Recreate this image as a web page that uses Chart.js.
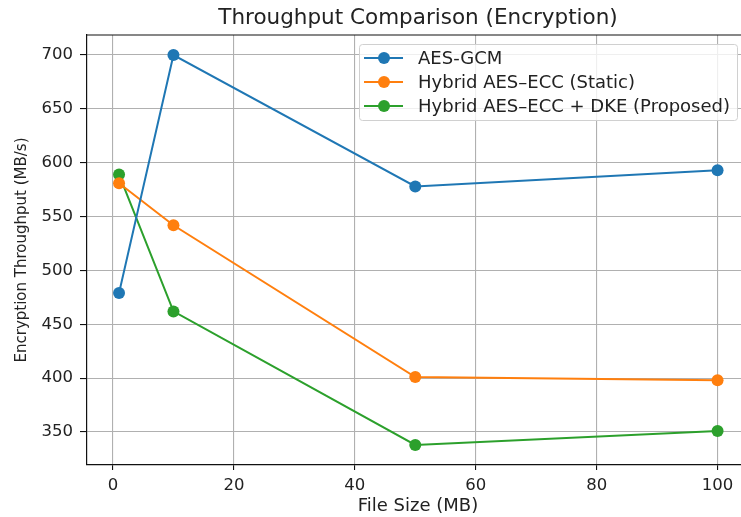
<!DOCTYPE html>
<html>
<head>
<meta charset="utf-8">
<script src="https://cdn.jsdelivr.net/npm/chart.js@4.4.1/dist/chart.umd.min.js"></script>
<style>
  html, body { margin: 0; padding: 0; background: #fff; overflow: hidden; }
  #wrap { width: 741px; height: 517px; overflow: hidden; }
</style>
</head>
<body>
<div id="wrap"><canvas id="chart" width="760" height="517"></canvas></div>
<script>
// du lieu doc tu hinh
const fileSizes = [1, 10, 50, 100];
const aesGcm = [479, 700, 578, 593];
const hybridStatic = [581, 542, 401, 398];
const hybridDke = [589, 462, 338, 351];
const xTicks = [0, 20, 40, 60, 80, 100];
const yTicks = [350, 400, 450, 500, 550, 600, 650, 700];
const chartTitle = 'Throughput Comparison (Encryption)';

const FONT = 'DejaVu Sans, sans-serif';

function toPoints(vals) {
    return fileSizes.map((x, i) => ({ x: x, y: vals[i] }));
}

function makeSeries(label, vals, color) {
    return {
        label: label,
        data: toPoints(vals),
        borderColor: color,
        backgroundColor: color,
        borderWidth: 2,
        pointRadius: 6,
        pointHoverRadius: 6,
        pointBorderWidth: 0,
        tension: 0
    };
}

// tieu de + vien tren, can giua vung ve
const frameAndTitle = {
    id: 'frameAndTitle',
    afterDraw(chart) {
        const ctx = chart.ctx;
        const a = chart.chartArea;
        ctx.save();
        ctx.strokeStyle = '#111';
        ctx.lineWidth = 1.2;
        ctx.beginPath();
        ctx.moveTo(a.left, a.top);
        ctx.lineTo(a.right, a.top);
        ctx.stroke();
        ctx.fillStyle = '#222';
        ctx.font = '21.5px ' + FONT;
        ctx.textAlign = 'center';
        ctx.textBaseline = 'middle';
        ctx.fillText(chartTitle, (a.left + a.right) / 2, 18);
        ctx.restore();
    }
};

// legend ve trong vung bieu do (goc tren ben phai)
const insideLegend = {
    id: 'insideLegend',
    afterDatasetsDraw(chart) {
        const ctx = chart.ctx;
        const area = chart.chartArea;
        const sets = chart.data.datasets;
        ctx.save();
        ctx.font = '18px ' + FONT;
        let maxW = 0;
        sets.forEach(d => { maxW = Math.max(maxW, ctx.measureText(d.label).width); });
        const w = maxW + 66, h = 76;
        const x0 = area.right - 12 - w, y0 = area.top + 9;
        ctx.fillStyle = 'rgba(255,255,255,0.8)';
        ctx.strokeStyle = '#d0d0d0';
        ctx.lineWidth = 1;
        ctx.beginPath();
        ctx.roundRect(x0 + 0.5, y0 + 0.5, w, h, 3);
        ctx.fill();
        ctx.stroke();
        sets.forEach((d, i) => {
            const cy = y0 + 14 + i * 24;
            ctx.strokeStyle = d.borderColor;
            ctx.lineWidth = 2;
            ctx.beginPath();
            ctx.moveTo(x0 + 5, cy);
            ctx.lineTo(x0 + 44, cy);
            ctx.stroke();
            ctx.fillStyle = d.borderColor;
            ctx.beginPath();
            ctx.arc(x0 + 25, cy, 6, 0, Math.PI * 2);
            ctx.fill();
            ctx.fillStyle = '#222';
            ctx.textBaseline = 'middle';
            ctx.fillText(d.label, x0 + 59, cy + 1);
        });
        ctx.restore();
    }
};

new Chart(document.getElementById('chart'), {
    type: 'line',
    data: {
        datasets: [
            makeSeries('AES-GCM', aesGcm, '#1f77b4'),
            makeSeries('Hybrid AES\u2013ECC (Static)', hybridStatic, '#ff7f0e'),
            makeSeries('Hybrid AES\u2013ECC + DKE (Proposed)', hybridDke, '#2ca02c')
        ]
    },
    options: {
        responsive: false,
        animation: false,
        layout: { padding: { left: 0, right: 11, top: 35, bottom: 0 } },
        plugins: {
            legend: { display: false },
            tooltip: { enabled: false },
            title: { display: false }
        },
        scales: {
            x: {
                type: 'linear',
                min: -4.3,
                max: 105.2,
                afterBuildTicks: s => { s.ticks = xTicks.map(v => ({ value: v })); },
                afterFit: s => { s.height = 52; },
                grid: { color: '#b0b0b0', lineWidth: 1.1, tickLength: 5, tickColor: '#111' },
                border: { color: '#111', width: 1.2 },
                ticks: { color: '#222', font: { family: FONT, size: 16.5 }, padding: 6, maxRotation: 0 },
                title: { display: true, text: 'File Size (MB)', color: '#222', font: { family: FONT, size: 18 }, padding: { top: 0, bottom: 0 } }
            },
            y: {
                type: 'linear',
                min: 319.4,
                max: 718.6,
                afterBuildTicks: s => { s.ticks = yTicks.map(v => ({ value: v })); },
                afterFit: s => { s.width = 87; },
                grid: { color: '#b0b0b0', lineWidth: 1.1, tickLength: 7, tickColor: '#111' },
                border: { color: '#111', width: 1.2 },
                ticks: { color: '#222', font: { family: FONT, size: 16.5 }, padding: 7 },
                title: { display: true, text: 'Encryption Throughput (MB/s)', color: '#222', font: { family: FONT, size: 15 }, padding: { top: 13, bottom: 0 } }
            }
        }
    },
    plugins: [insideLegend, frameAndTitle]
});
</script>
</body>
</html>
